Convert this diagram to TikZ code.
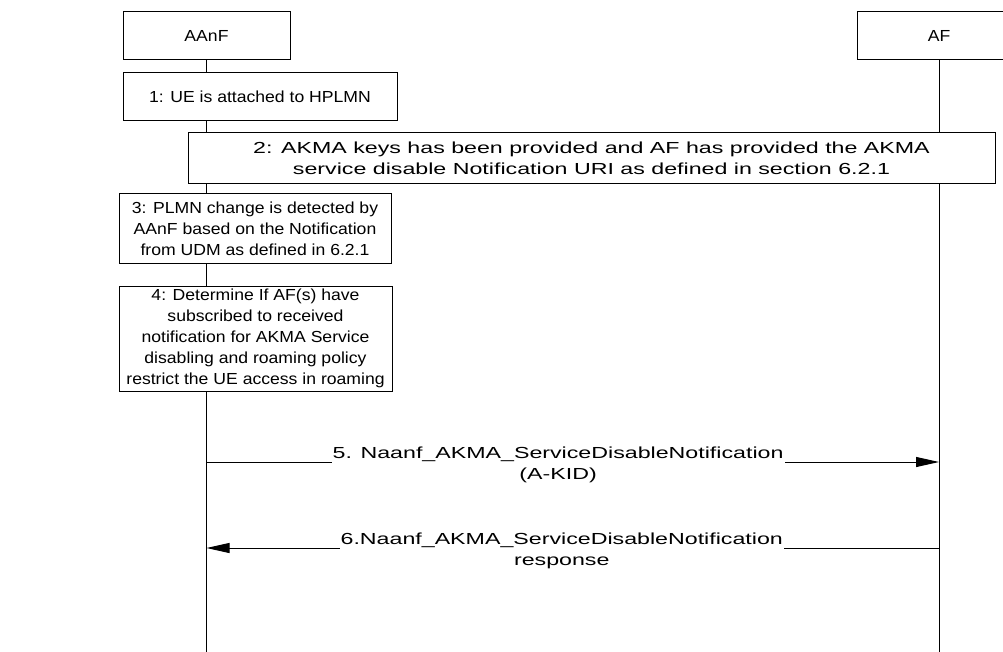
\documentclass[tikz,border=0pt]{standalone}
\usepackage{fontspec}
\setmainfont{Liberation Sans}
\newfontfamily\boxfont[FakeStretch=1.1]{Liberation Sans}
\newfontfamily\widefont[FakeStretch=1.45]{Liberation Sans}
\usetikzlibrary{arrows.meta}

\tikzset{
  entity/.style={draw, line width=1pt, fill=white, minimum width=167pt, minimum height=48pt, inner sep=0pt, font=\fontsize{16}{21}\boxfont},
  stepbox/.style={draw, line width=1pt, fill=white, align=center, inner sep=0pt, font=\fontsize{16}{21}\boxfont},
  widebox/.style={stepbox, font=\fontsize{16}{21}\widefont},
  lifeline/.style={line width=0.8pt},
  msg/.style={line width=1pt, -{Triangle[length=23pt,width=10pt]}},
  msglabel/.style={fill=white, align=center, inner sep=1pt, yshift=-3pt, font=\fontsize{16}{21}\widefont}
}

\begin{document}
\begin{tikzpicture}[x=1pt,y=-1pt]
\useasboundingbox (0,0) rectangle (1003,652);
% entities and lifelines
\node[entity] (aanf) at (206.5,36) {AAnF};
\node[entity, minimum width=164pt] (af) at (939,36) {AF};
\coordinate (aanfend) at (206.5,652);
\coordinate (afend) at (939,652);
\draw[lifeline] (aanf.south) -- (aanfend);
\draw[lifeline] (af.south) -- (afend);

% steps
\node[stepbox, minimum width=274pt, minimum height=48pt] (s1) at (260,97)
  {1: UE is attached to HPLMN};
\node[widebox, minimum width=807pt, minimum height=51pt] (s2) at (591.5,158.5)
  {2: AKMA keys has been provided and AF has provided the AKMA\\service disable Notification URI as defined in section 6.2.1};
\node[stepbox, minimum width=272pt, minimum height=69pt] (s3) at (255,228.5)
  {3: PLMN change is detected by\\AAnF based on the Notification\\from UDM as defined in 6.2.1};
\node[stepbox, minimum width=273pt, minimum height=105pt] (s4) at (255.5,338.5)
  {4: Determine If AF(s) have\\subscribed to received\\notification for AKMA Service\\disabling and roaming policy\\restrict the UE access in roaming};

% messages
\draw[msg] (aanf |- 0,462) -- node[msglabel, pos=0.48] (l5)
  {5. Naanf\_AKMA\_ServiceDisableNotification\\(A-KID)} (af |- 0,462);
\draw[msg] (af |- 0,548) -- node[msglabel, pos=0.515] (l6)
  {6.Naanf\_AKMA\_ServiceDisableNotification\\response} (aanf |- 0,548);
\end{tikzpicture}
\end{document}
